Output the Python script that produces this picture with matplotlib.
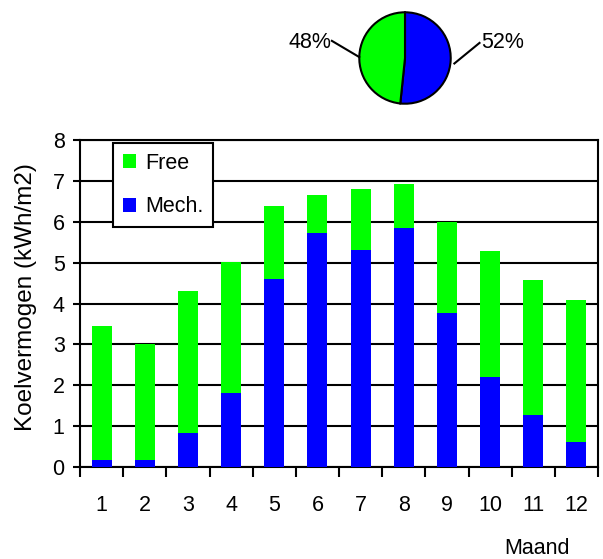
import matplotlib
matplotlib.use("Agg")
import matplotlib.pyplot as plt
import numpy as np

plt.rcParams['font.family'] = ['Liberation Sans', 'DejaVu Sans']

months = ['1', '2', '3', '4', '5', '6', '7', '8', '9', '10', '11', '12']
mech = [0.17, 0.17, 0.83, 1.81, 4.59, 5.73, 5.31, 5.84, 3.77, 2.19, 1.26, 0.61]
total = [3.45, 3.00, 4.30, 5.02, 6.38, 6.65, 6.81, 6.93, 6.00, 5.29, 4.58, 4.09]
free = [t - m for t, m in zip(total, mech)]
pie_labels = ['52%', '48%']
yticks = [0, 1, 2, 3, 4, 5, 6, 7, 8]

GREEN = '#00FF00'
BLUE = '#0000FF'
FS = 15.5

W, H = 603, 559
fig = plt.figure(figsize=(W / 100, H / 100), dpi=100)

# Main bar chart
ax = fig.add_axes([80 / W, 1 - 467 / H, 518 / W, 327 / H])
x = np.arange(1, len(months) + 1)
ax.bar(x, mech, width=0.46, color=BLUE, label='Mech.', zorder=3)
ax.bar(x, free, bottom=mech, width=0.46, color=GREEN, label='Free', zorder=3)
ax.set_xlim(0.5, 12.5)
ax.set_ylim(0, 8)
ax.set_yticks(yticks)
ax.set_yticklabels([str(v) for v in yticks], fontsize=FS)
ax.yaxis.grid(True, color='black', linewidth=1.5, zorder=1)
ax.set_axisbelow(True)
ax.set_xticks(np.arange(0.5, 13, 1))
ax.set_xticklabels([])
ax.set_xticks(x, minor=True)
ax.set_xticklabels(months, minor=True, fontsize=FS)
ax.tick_params(axis='x', which='major', direction='out', length=7, width=1.5)
ax.tick_params(axis='x', which='minor', length=0, pad=20)
ax.tick_params(axis='y', direction='out', length=5, width=1.5, pad=6)
for s in ax.spines.values():
    s.set_linewidth(1.5)
    s.set_color('black')
ax.set_ylabel('Koelvermogen (kWh/m2)', fontsize=17.5, va='center')
ax.yaxis.set_label_coords(-54 / 518, (467 - 297) / 327)

handles, labels = ax.get_legend_handles_labels()
leg = ax.legend(handles[::-1], labels[::-1], loc='upper left',
                bbox_to_anchor=(113 / W, 1 - 143 / H), bbox_transform=fig.transFigure,
                fontsize=FS, frameon=True, fancybox=False, edgecolor='black', framealpha=1,
                handlelength=0.6, handleheight=0.6, labelspacing=1.05,
                handletextpad=0.45, borderpad=0.45, borderaxespad=0)
leg.get_frame().set_linewidth(1.5)

fig.text(537 / W, 1 - 548 / H, 'Maand', fontsize=FS, ha='center', va='center')

# Pie chart
pax = fig.add_axes([357 / W, 1 - 106 / H, 96 / W, 96 / H])
pax.pie([sum(mech), sum(free)], colors=[BLUE, GREEN], startangle=90, counterclock=False,
        wedgeprops=dict(edgecolor='black', linewidth=1.5))
pax.set_xlim(-1.05, 1.05)
pax.set_ylim(-1.05, 1.05)
pax.plot([-1.6, -1.0], [0.375, 0.02], color='black', lw=1.5, clip_on=False)
pax.plot([1.08, 1.63], [-0.12, 0.33], color='black', lw=1.5, clip_on=False)
pax.text(-1.62, 0.33, pie_labels[1], fontsize=FS, ha='right', va='center')
pax.text(1.66, 0.33, pie_labels[0], fontsize=FS, ha='left', va='center')

fig.savefig('out.png', dpi=100)
